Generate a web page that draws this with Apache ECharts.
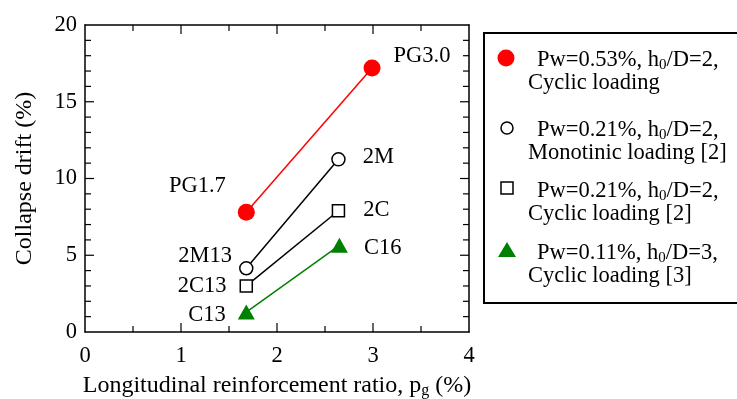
<!DOCTYPE html>
<html>
<head>
<meta charset="utf-8">
<script src="https://cdn.jsdelivr.net/npm/echarts@6/dist/echarts.min.js"></script>
<style>
  html, body { margin: 0; padding: 0; background: #fff; }
  #chart { width: 737px; height: 399px; }
</style>
</head>
<body>
<div id="chart"></div>
<script>
// Longitudinal reinforcement ratio pg (%) vs collapse drift (%)
const pgRed = [1.68, 2.99];
const driftRed = [7.8, 17.2];
const namesRed = ['PG1.7', 'PG3.0'];

const pgCircle = [1.68, 2.64];
const driftCircle = [4.15, 11.25];
const namesCircle = ['2M13', '2M'];

const pgSquare = [1.68, 2.64];
const driftSquare = [3.0, 7.9];
const namesSquare = ['2C13', '2C'];

const pgTri = [1.68, 2.65];
const driftTri = [1.3, 5.65];
const namesTri = ['C13', 'C16'];

// axis ranges and tick positions
const X_MAX = 4, Y_MAX = 20;
const xTicks = [0, 1, 2, 3, 4];
const xMinorTicks = [0.5, 1.5, 2.5, 3.5];
const yTicks = [0, 5, 10, 15, 20];
const yMinorTicks = [1, 2, 3, 4, 6, 7, 8, 9, 11, 12, 13, 14, 16, 17, 18, 19];

const SERIF = 'Liberation Serif';
const MAJOR_LEN = 9, MINOR_LEN = 6;

// label placement per point: [position, distance, offsetX, offsetY]
const labelPlace = {
  red: [['left', 12, 0, -26], ['right', 13, 0, -12]],
  circle: [['left', 7, 0, -12], ['right', 17, 0, -2]],
  square: [['left', 13, 0, 0], ['right', 18, 0, -1]],
  tri: [['left', 12, 0, 3], ['right', 16, 0, 3]]
};

function pts(xs, ys, names, place) {
  return xs.map((x, i) => ({
    value: [x, ys[i]],
    name: names[i],
    label: {
      show: true,
      position: place[i][0],
      distance: place[i][1],
      offset: [place[i][2], place[i][3]],
      formatter: '{b}',
      fontFamily: SERIF,
      fontSize: 22.5,
      color: '#000'
    }
  }));
}

const chart = echarts.init(document.getElementById('chart'));

function axisBase(extra) {
  return Object.assign({
    min: 0,
    axisLine: { show: true, onZero: false, lineStyle: { color: '#000', width: 1.5 } },
    axisTick: { show: false },
    splitLine: { show: false }
  }, extra);
}

function labelStyle(margin, ticks) {
  return {
    margin: margin,
    color: '#000',
    fontFamily: SERIF,
    fontSize: 22.5,
    formatter: v => ticks.includes(v) ? String(v) : ''
  };
}

const legendItems = [
  { y: 59, l1: ['Pw=0.53%, h', '0', '/D=2,'], l2: 'Cyclic loading' },
  { y: 129, l1: ['Pw=0.21%, h', '0', '/D=2,'], l2: 'Monotinic loading [2]' },
  { y: 190, l1: ['Pw=0.21%, h', '0', '/D=2,'], l2: 'Cyclic loading [2]' },
  { y: 252, l1: ['Pw=0.11%, h', '0', '/D=3,'], l2: 'Cyclic loading [3]' }
];

const legendGraphics = [
  {
    type: 'rect',
    shape: { x: 484, y: 33, width: 270, height: 270 },
    style: { fill: '#fff', stroke: '#000', lineWidth: 2 }
  },
  { type: 'circle', shape: { cx: 506, cy: 58, r: 8.5 }, style: { fill: '#ff0000' } },
  { type: 'circle', shape: { cx: 507, cy: 128, r: 6 }, style: { fill: '#fff', stroke: '#000', lineWidth: 1.5 } },
  { type: 'rect', shape: { x: 501, y: 182, width: 12, height: 12 }, style: { fill: '#fff', stroke: '#000', lineWidth: 1.5 } },
  { type: 'polygon', shape: { points: [[507, 242], [516, 257], [498, 257]] }, style: { fill: '#008000' } }
];

legendItems.forEach(it => {
  legendGraphics.push({
    type: 'text',
    x: 537, y: it.y + 1,
    style: {
      text: '{a|' + it.l1[0] + '}{s|' + it.l1[1] + '}{a|' + it.l1[2] + '}',
      verticalAlign: 'middle',
      rich: {
        a: { fontFamily: SERIF, fontSize: 22.5, fill: '#000' },
        s: { fontFamily: SERIF, fontSize: 15, fill: '#000', padding: [10, 0, 0, 0] }
      }
    }
  });
  legendGraphics.push({
    type: 'text',
    x: 528, y: it.y + 24,
    style: {
      text: it.l2,
      verticalAlign: 'middle',
      font: '22.5px "Liberation Serif"',
      fill: '#000'
    }
  });
});

const option = {
  animation: false,
  grid: { left: 85, right: 268, top: 25, bottom: 67, outerBoundsMode: 'none' },
  xAxis: [
    axisBase({
      type: 'value', position: 'bottom', max: X_MAX, interval: 1,
      axisLabel: labelStyle(13, xTicks),
      name: '{a|Longitudinal reinforcement ratio, p}{s|g}{a| (%)}',
      nameLocation: 'middle',
      nameGap: 40,
      nameTextStyle: {
        rich: {
          a: { fontFamily: SERIF, fontSize: 24, color: '#000' },
          s: { fontFamily: SERIF, fontSize: 16, color: '#000', padding: [11, 0, 0, 0] }
        }
      }
    }),
    axisBase({
      type: 'value', position: 'top', max: X_MAX, interval: 1,
      axisLabel: { show: false }
    })
  ],
  yAxis: [
    axisBase({
      type: 'value', position: 'left', max: Y_MAX, interval: 5,
      axisLabel: labelStyle(8, yTicks),
      name: 'Collapse drift (%)',
      nameLocation: 'middle',
      nameGap: 48,
      nameTextStyle: { fontFamily: SERIF, fontSize: 24, color: '#000' }
    }),
    axisBase({
      type: 'value', position: 'right', max: Y_MAX, interval: 5,
      axisLabel: { show: false }
    })
  ],
  series: [
    {
      type: 'line', name: 'Pw=0.53%',
      data: pts(pgRed, driftRed, namesRed, labelPlace.red),
      symbol: 'circle', symbolSize: 17,
      itemStyle: { color: '#ff0000' },
      lineStyle: { color: '#ff0000', width: 1.5 }
    },
    {
      type: 'line', name: 'Pw=0.21% mono',
      data: pts(pgCircle, driftCircle, namesCircle, labelPlace.circle),
      symbol: 'circle', symbolSize: 13,
      itemStyle: { color: '#fff', borderColor: '#000', borderWidth: 1.5 },
      lineStyle: { color: '#000', width: 1.5 }
    },
    {
      type: 'line', name: 'Pw=0.21% cyclic',
      data: pts(pgSquare, driftSquare, namesSquare, labelPlace.square),
      symbol: 'rect', symbolSize: 12,
      itemStyle: { color: '#fff', borderColor: '#000', borderWidth: 1.5 },
      lineStyle: { color: '#000', width: 1.5 }
    },
    {
      type: 'line', name: 'Pw=0.11%',
      data: pts(pgTri, driftTri, namesTri, labelPlace.tri),
      symbol: 'triangle', symbolSize: [17, 15],
      itemStyle: { color: '#008000' },
      lineStyle: { color: '#008000', width: 1.5 }
    }
  ],
  graphic: legendGraphics
};

chart.setOption(option);

// Inward tick marks on all four sides of the frame, placed through the grid's scales.
function toPx(x, y) {
  return chart.convertToPixel({ gridIndex: 0 }, [x, y]);
}
function tickLine(x1, y1, x2, y2) {
  return {
    type: 'line', silent: true, z: 100,
    shape: { x1: x1, y1: y1, x2: x2, y2: y2 },
    style: { stroke: '#000', lineWidth: 1.2 }
  };
}
const tickGraphics = [];
function addXTick(v, len) {
  const a = toPx(v, 0), b = toPx(v, Y_MAX);
  tickGraphics.push(tickLine(a[0], a[1], a[0], a[1] - len));
  tickGraphics.push(tickLine(b[0], b[1], b[0], b[1] + len));
}
function addYTick(v, len) {
  const a = toPx(0, v), b = toPx(X_MAX, v);
  tickGraphics.push(tickLine(a[0], a[1], a[0] + len, a[1]));
  tickGraphics.push(tickLine(b[0], b[1], b[0] - len, b[1]));
}
xTicks.slice(1, -1).forEach(v => addXTick(v, MAJOR_LEN));
xMinorTicks.forEach(v => addXTick(v, MINOR_LEN));
yTicks.slice(1, -1).forEach(v => addYTick(v, MAJOR_LEN));
yMinorTicks.forEach(v => addYTick(v, MINOR_LEN));

chart.setOption({ graphic: legendGraphics.concat(tickGraphics) });
</script>
</body>
</html>
